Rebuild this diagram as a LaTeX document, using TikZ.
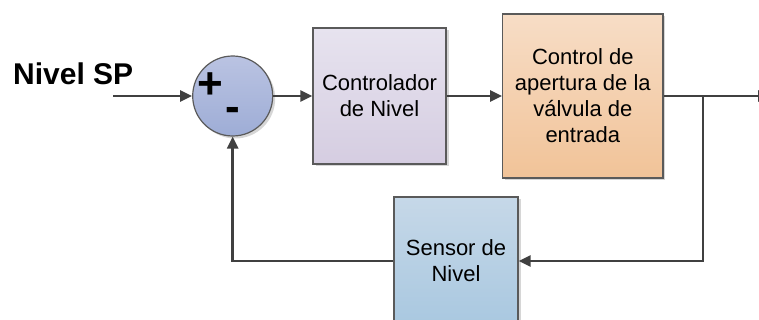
\documentclass[tikz,border=0pt]{standalone}
\usepackage{fontspec}
\setmainfont{Liberation Sans}
\usetikzlibrary{arrows.meta}

\definecolor{wirecol}{HTML}{404040}
\definecolor{edgecol}{HTML}{5A5A5A}
\definecolor{sumtop}{HTML}{BAC3E2}
\definecolor{sumbot}{HTML}{9EADD6}
\definecolor{ctrltop}{HTML}{E7E3EF}
\definecolor{ctrlbot}{HTML}{D5CDE1}
\definecolor{valvetop}{HTML}{F7DDC6}
\definecolor{valvebot}{HTML}{F1C398}
\definecolor{senstop}{HTML}{C6D8E8}
\definecolor{sensbot}{HTML}{A9C8E0}

\begin{document}
\begin{tikzpicture}[x=1pt,y=-1pt,
  wire/.style={draw=wirecol, line width=2.7pt},
  flow/.style={wire, -{Triangle[length=12pt,width=11pt]}},
  shadowed/.style={preaction={fill=black, opacity=0.16,
      transform canvas={shift={(2.5pt,-2.5pt)}}}},
  block/.style={shadowed, draw=edgecol, line width=1.2pt, rectangle,
      inner sep=0pt, align=center, font=\fontsize{22}{26}\selectfont},
  sumnode/.style={shadowed, draw=edgecol, line width=1.2pt, circle,
      inner sep=0pt, minimum size=80pt, top color=sumtop, bottom color=sumbot},
  sign/.style={inner sep=0pt, font=\bfseries\fontsize{44}{44}\selectfont}
]
\useasboundingbox (0,0) rectangle (759,320);

% summing junction with its signs
\node[sumnode] (sum) at (232.7,96) {};
\node[sign] (plus) at (210,86) {+};
\node[sign] (minus) at (233,114) {-};

% blocks of the loop
\node[block, minimum width=133pt, minimum height=136pt,
      top color=ctrltop, bottom color=ctrlbot] (ctrl) at (379.5,96)
      {Controlador\\de Nivel};
\node[block, minimum width=160.3pt, minimum height=164pt,
      top color=valvetop, bottom color=valvebot] (valve) at (582.8,96)
      {Control de\\apertura de la\\válvula de\\entrada};
\node[block, minimum width=124pt, minimum height=128pt,
      top color=senstop, bottom color=sensbot] (sensor) at (456,261)
      {Sensor de\\Nivel};

% set point label
\node[anchor=base west, inner sep=0pt, font=\bfseries\fontsize{30}{30}\selectfont]
      (sp) at (13,85) {Nivel SP};

% connectors
\coordinate (in) at (113,96);
\coordinate (out) at (770,96);
\coordinate (tap) at (703,96);
\draw[flow] (in) -- (sum.west);
\draw[flow] (sum.east) -- (ctrl.west);
\draw[flow] (ctrl.east) -- (valve.west);
\draw[flow] (valve.east) -- (out);
\draw[flow] (tap) |- (sensor.east);
\draw[flow] (sensor.west) -| (sum.south);
\end{tikzpicture}
\end{document}
